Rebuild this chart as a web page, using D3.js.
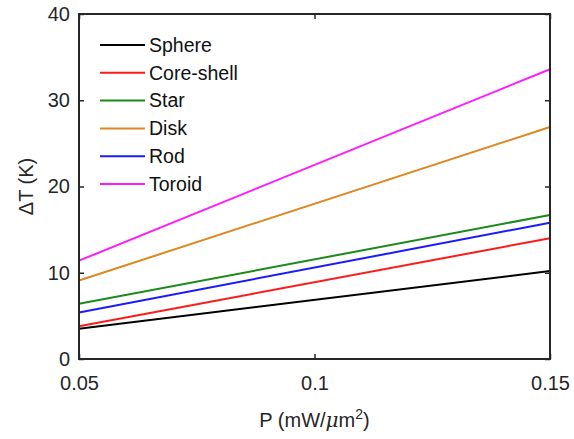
<!DOCTYPE html>
<html lang="en">
<head>
<meta charset="UTF-8">
<title>Delta T vs P</title>
<style>
  body { margin: 0; background: #fff; }
  svg { display: block; font-family: "Liberation Sans", Arial, sans-serif; }
</style>
<script src="https://cdn.jsdelivr.net/npm/d3@7"></script>
</head>
<body>
<div id="chart"></div>
<script>
// data
const powers = [0.05, 0.15];
const seriesNames = ["Sphere", "Core-shell", "Star", "Disk", "Rod", "Toroid"];
const sphere = [3.5, 10.2];
const coreShell = [3.8, 14.0];
const star = [6.4, 16.7];
const disk = [9.1, 26.9];
const rod = [5.4, 15.8];
const toroid = [11.4, 33.6];
const xTicks = [0.05, 0.1, 0.15];
const yTicks = [0, 10, 20, 30, 40];

const colors = ["#000000", "#ff1a1a", "#1a8a1a", "#dd871e", "#1a1aff", "#ff1aff"];
const allValues = [sphere, coreShell, star, disk, rod, toroid];

const width = 574, height = 439;
const margin = { left: 79, top: 14, right: 24, bottom: 80 };
const innerW = width - margin.left - margin.right;
const innerH = height - margin.top - margin.bottom;
const ink = "#262626";

const svg = d3.select("#chart").append("svg")
    .attr("width", width)
    .attr("height", height);

const g = svg.append("g").attr("transform", `translate(${margin.left},${margin.top})`);

const x = d3.scaleLinear().domain([0.05, 0.15]).range([0, innerW]);
const y = d3.scaleLinear().domain([0, 40]).range([innerH, 0]);

// lines
const line = d3.line().x((d, i) => x(powers[i])).y(d => y(d));
g.selectAll(".series")
    .data(allValues)
    .enter()
    .append("path")
    .attr("class", "series")
    .attr("d", d => line(d))
    .attr("fill", "none")
    .attr("stroke", (d, i) => colors[i])
    .attr("stroke-width", 2);

// axes with inward ticks (box style)
const fmt = d => d3.format("")(+d.toFixed(2));
g.append("g")
    .attr("transform", `translate(0,${innerH})`)
    .call(d3.axisBottom(x).tickValues(xTicks).tickSize(-5).tickPadding(17).tickFormat(fmt))
    .call(a => a.select(".domain").remove());
g.append("g")
    .call(d3.axisTop(x).tickValues(xTicks).tickSize(-5).tickFormat(""))
    .call(a => a.select(".domain").remove());
g.append("g")
    .call(d3.axisLeft(y).tickValues(yTicks).tickSize(-5).tickPadding(9).tickFormat(d3.format("d")))
    .call(a => a.select(".domain").remove());
g.append("g")
    .attr("transform", `translate(${innerW},0)`)
    .call(d3.axisRight(y).tickValues(yTicks).tickSize(-5).tickFormat(""))
    .call(a => a.select(".domain").remove());

g.selectAll(".tick line").attr("stroke", ink).attr("stroke-width", 1.5);
g.selectAll(".tick text").attr("fill", ink).style("font-size", "20px");

g.append("rect")
    .attr("width", innerW)
    .attr("height", innerH)
    .attr("fill", "none")
    .attr("stroke", ink)
    .attr("stroke-width", 2);

// axis labels
svg.append("text")
    .attr("transform", `translate(33,${margin.top + innerH / 2}) rotate(-90)`)
    .attr("text-anchor", "middle")
    .attr("fill", ink)
    .style("font-size", "20px")
    .text("ΔT (K)");

const xl = svg.append("text")
    .attr("x", margin.left + innerW / 2)
    .attr("y", 427)
    .attr("text-anchor", "middle")
    .attr("fill", ink)
    .style("font-size", "20px");
xl.append("tspan").text("P (mW/");
xl.append("tspan").style("font-family", "'DejaVu Serif', serif").style("font-style", "italic").text("μ");
xl.append("tspan").text("m");
xl.append("tspan").attr("dy", -8).style("font-size", "14px").text("2");
xl.append("tspan").attr("dy", 8).text(")");

// legend
const legend = g.append("g").attr("transform", "translate(21,31)");
const rows = legend.selectAll(".item")
    .data(seriesNames)
    .enter()
    .append("g")
    .attr("transform", (d, i) => `translate(0,${i * 27.8})`);
rows.append("line")
    .attr("x1", 0).attr("x2", 45)
    .attr("stroke", (d, i) => colors[i])
    .attr("stroke-width", 2);
rows.append("text")
    .attr("x", 49)
    .attr("dy", "0.35em")
    .attr("fill", "#111")
    .style("font-size", "19.5px")
    .text(d => d);
</script>
</body>
</html>
